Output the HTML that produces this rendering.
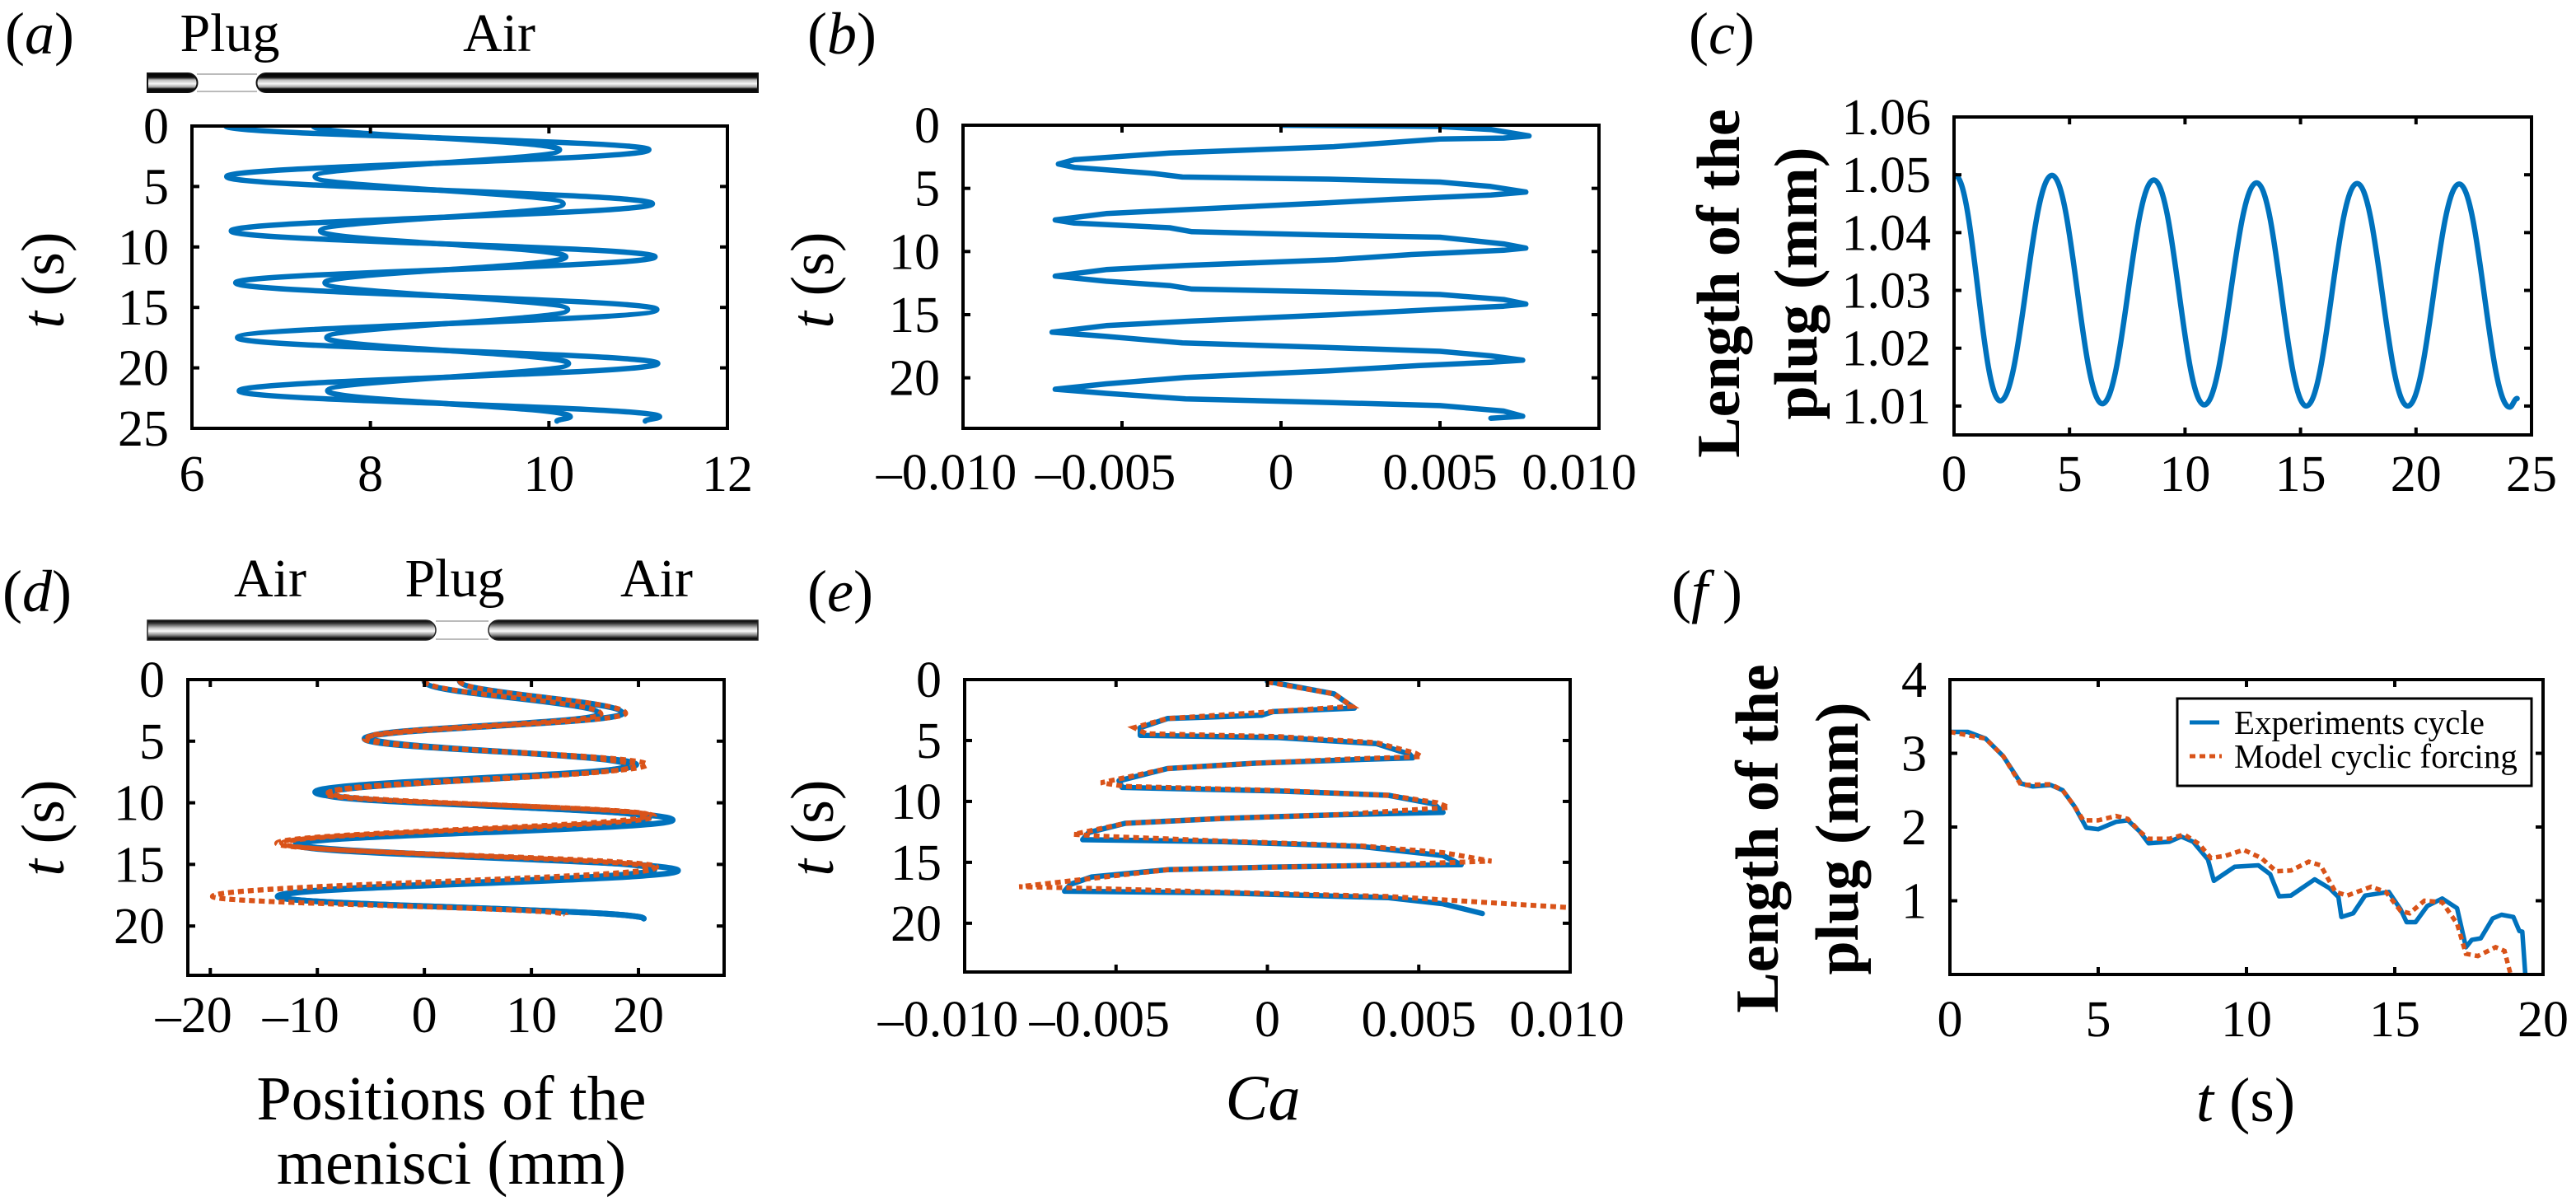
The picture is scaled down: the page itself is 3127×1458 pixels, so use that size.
<!DOCTYPE html>
<html><head><meta charset="utf-8"><style>
html,body{margin:0;padding:0;background:#fff;}
svg{display:block;font-family:"Liberation Serif",serif;}
</style></head><body>
<svg id="fig" xmlns="http://www.w3.org/2000/svg" width="3127" height="1458" viewBox="0 0 3127 1458">
<defs>
<linearGradient id="tubeG" x1="0" y1="0" x2="0" y2="1">
<stop offset="0" stop-color="#000"/><stop offset="0.22" stop-color="#111"/><stop offset="0.35" stop-color="#bbb"/><stop offset="0.55" stop-color="#f6f6f6"/><stop offset="0.72" stop-color="#aaa"/><stop offset="0.82" stop-color="#111"/><stop offset="1" stop-color="#000"/>
</linearGradient>
<linearGradient id="tubeG2" x1="0" y1="0" x2="0" y2="1">
<stop offset="0" stop-color="#000"/><stop offset="0.15" stop-color="#333"/><stop offset="0.4" stop-color="#ccc"/><stop offset="0.55" stop-color="#fafafa"/><stop offset="0.75" stop-color="#888"/><stop offset="0.9" stop-color="#111"/><stop offset="1" stop-color="#000"/>
</linearGradient>
</defs>
<g font-size="66">
<text x="6" y="65" font-size="72">(<tspan font-style="italic">a</tspan>)</text>
<text x="279" y="62" text-anchor="middle">Plug</text>
<text x="606" y="62" text-anchor="middle">Air</text>
<path d="M179,89 H228 A11.5,11.5 0 0 1 228,112 H179 Z" fill="url(#tubeG)" stroke="#111" stroke-width="2"/>
<path d="M920,89 H323 A11.5,11.5 0 0 0 323,112 H920 Z" fill="url(#tubeG)" stroke="#111" stroke-width="2"/>
<line x1="239" y1="90" x2="312" y2="90" stroke="#bbb" stroke-width="2"/>
<line x1="239" y1="111" x2="312" y2="111" stroke="#bbb" stroke-width="2"/>
</g>
<g font-size="66">
<text x="3" y="742" font-size="72">(<tspan font-style="italic">d</tspan>)</text>
<text x="328" y="724" text-anchor="middle">Air</text>
<text x="552" y="724" text-anchor="middle">Plug</text>
<text x="797" y="724" text-anchor="middle">Air</text>
<path d="M179,753 H517 A12,12 0 0 1 517,777 H179 Z" fill="url(#tubeG2)" stroke="#222" stroke-width="1.5"/>
<path d="M920,753 H605 A12,12 0 0 0 605,777 H920 Z" fill="url(#tubeG2)" stroke="#222" stroke-width="1.5"/>
<line x1="529" y1="754" x2="593" y2="754" stroke="#bbb" stroke-width="2"/>
<line x1="529" y1="776" x2="593" y2="776" stroke="#bbb" stroke-width="2"/>
</g>
<text x="980" y="65" font-size="72">(<tspan font-style="italic">b</tspan>)</text>
<text x="980" y="742" font-size="72">(<tspan font-style="italic">e</tspan>)</text>
<text x="2050" y="65" font-size="72">(<tspan font-style="italic">c</tspan>)</text>
<text x="2029" y="742" font-size="72">(<tspan font-style="italic">f</tspan> )</text>
</svg>
<script>
// ---------- data ----------
const aT = [0,1.96,4.18,6.43,8.68,10.82,12.96,15.18,17.5,19.64,21.9,24.04,24.4];
const aOuterX = [6.38,11.12,6.39,11.16,6.44,11.19,6.49,11.21,6.51,11.22,6.53,11.24,11.08];
const aInnerX = [7.36,10.12,7.38,10.16,7.44,10.19,7.49,10.21,7.51,10.22,7.52,10.24,10.09];

const bCa = [0,0.00497,0.0066,0.0078,0.0070,0.005,0.00166,-0.0035,-0.0065,-0.0070,-0.0065,-0.004,-0.0031,0.0015,0.005,0.0066,0.0077,0.0066,0.0035,0.0015,-0.0028,-0.0055,-0.0071,-0.0065,-0.0035,-0.0028,0.0015,0.005,0.007,0.0077,0.007,0.0041,0.0017,-0.003,-0.0055,-0.0071,-0.0055,-0.0035,-0.0028,0.0015,0.005,0.007,0.0077,0.007,0.0048,0.0017,-0.0028,-0.0055,-0.0072,-0.0055,-0.0031,0.0013,0.005,0.0066,0.0076,0.0066,0.0043,0.0015,-0.003,-0.0055,-0.0071,-0.0055,-0.003,0.0015,0.005,0.007,0.0076,0.0066];
const bT = [0,0.1,0.34,0.85,1.02,1.09,1.7,2.2,2.73,3.07,3.34,3.82,4.1,4.27,4.5,4.85,5.29,5.53,5.87,6.14,6.66,7.0,7.5,7.75,8.12,8.43,8.7,8.87,9.4,9.73,9.9,10.24,10.65,11.1,11.43,11.95,12.35,12.7,12.97,13.2,13.4,13.8,14.16,14.33,14.6,15.0,15.5,15.87,16.38,16.72,17.24,17.58,17.9,18.26,18.6,18.77,19.04,19.45,19.97,20.48,20.9,21.23,21.67,21.95,22.2,22.63,23.04,23.2];

const cT = [0.05,2.0,4.24,6.42,8.65,10.83,13.1,15.25,17.45,19.64,21.87,24.05,24.38];
const cL = [1.0499,1.0109,1.0499,1.0104,1.0491,1.0102,1.0486,1.0100,1.0485,1.0100,1.0484,1.0098,1.0113];

const dBlue1X = [3.3,18.5,-5.6,19.8,-10.2,23.2,-12,23.7,-13.7,20.5];
const dBlue1T = [0.1,2.75,4.8,6.9,9.13,11.4,13.4,15.5,17.6,19.4];
const dBlue2X = [0,16.3,-5.2,19,-9.3,21,-12,21.5,-13.7,20.5];
const dBlue2T = [0.14,2.8,4.7,6.95,9.3,11.2,13.3,15.4,17.6,19.4];
const dRed1X = [3.3,18.8,-5.6,20.8,-9,21.5,-13.3,21.5,-19.8,13.2];
const dRed1T = [0.1,2.75,4.8,6.9,9.2,11.1,13.3,15.3,17.6,19.1];
const dRed2X = [0,16.5,-5.3,19.5,-9.2,21,-13.8,21.7,-19.8,13.2];
const dRed2T = [0.1,2.8,4.7,7.0,9.3,11.0,13.3,15.2,17.6,19.1];

const eBlueCa = [0,0.0022,0.00287,0.00018,-0.00018,-0.0033,-0.0042,-0.0042,0.00036,0.0036,0.0047,0.0048,0.0029,-0.0004,-0.0033,-0.0049,-0.0048,0.00036,0.004,0.0055,0.0058,0.0022,-0.0015,-0.0047,-0.0059,-0.0061,-0.0015,0.0031,0.0058,0.0064,0.0031,0,-0.0033,-0.0058,-0.0065,-0.0067,-0.0015,0.004,0.0058,0.0071];
const eBlueT = [0.15,1.17,2.34,2.63,2.92,3.2,3.94,4.58,4.76,5.26,6.13,6.42,6.57,6.86,7.3,8.3,8.85,9.14,9.5,10.2,10.9,11.1,11.4,11.8,12.55,13.14,13.3,13.7,14.45,15.2,15.27,15.4,15.6,16.2,16.8,17.37,17.5,17.9,18.4,19.2];
const eRedCa = [0,0.0022,0.0028,0.0002,-0.0033,-0.0044,-0.004,0.00036,0.0036,0.0049,0.0051,0.0029,-0.0004,-0.0033,-0.0055,-0.0047,0.00036,0.004,0.0056,0.006,0.0022,-0.0015,-0.0047,-0.0064,-0.0055,-0.0015,0.0031,0.0058,0.0074,0.0031,0,-0.0033,-0.0082,-0.0067,-0.0015,0.004,0.0099];
const eRedT = [0.2,1.17,2.2,2.63,3.2,3.94,4.44,4.67,5.17,6.05,6.33,6.5,6.86,7.3,8.47,8.76,9.1,9.5,10.1,10.5,11.1,11.4,11.8,12.7,12.85,13.25,13.65,14.2,14.9,15.25,15.4,15.6,17.0,17.08,17.45,17.8,18.7];

const fExpT = [0,0.6,1.2,1.8,2.4,2.8,3.4,3.8,4.2,4.6,5.0,5.6,6.0,6.4,6.7,7.4,7.8,8.2,8.7,8.9,9.6,10.4,10.8,11.1,11.5,12.3,12.8,13.1,13.2,13.6,14.0,14.8,15.2,15.4,15.7,16.1,16.6,17.1,17.4,17.6,17.9,18.3,18.6,19.0,19.2,19.3,19.4];
const fExpL = [3.29,3.29,3.2,2.96,2.59,2.55,2.57,2.50,2.28,1.99,1.97,2.07,2.09,1.94,1.78,1.80,1.87,1.80,1.56,1.27,1.46,1.48,1.36,1.06,1.07,1.29,1.17,1.05,0.78,0.83,1.07,1.12,0.88,0.71,0.71,0.93,1.03,0.90,0.37,0.47,0.49,0.76,0.81,0.78,0.59,0.58,0.01];
const fModT = [0,1.2,1.8,2.4,3.4,3.8,4.2,4.5,5.0,5.6,6.0,6.4,6.7,7.4,7.9,8.4,8.8,9.3,9.9,10.5,11.0,11.5,12.1,12.5,13.0,13.4,14.2,14.7,15.2,15.5,16.0,16.6,17.1,17.4,17.8,18.4,18.7,18.9];
const fModL = [3.29,3.2,2.96,2.57,2.58,2.50,2.28,2.09,2.09,2.15,2.11,1.94,1.84,1.84,1.90,1.77,1.58,1.61,1.69,1.58,1.40,1.41,1.53,1.48,1.12,1.07,1.19,1.12,0.86,0.83,1.00,0.98,0.69,0.28,0.25,0.37,0.32,0.01];

const aXTicks = [6,8,10,12], aYTicks = [0,5,10,15,20,25];
const bXTicks = [-0.01,-0.005,0,0.005,0.01], bYTicks = [0,5,10,15,20];
const cXTicks = [0,5,10,15,20,25], cYTicks = [1.01,1.02,1.03,1.04,1.05,1.06];
const dXTicks = [-20,-10,0,10,20], dYTicks = [0,5,10,15,20];
const eXTicks = [-0.01,-0.005,0,0.005,0.01], eYTicks = [0,5,10,15,20];
const fXTicks = [0,5,10,15,20], fYTicks = [1,2,3,4];

// ---------- drawing ----------
const NS = 'http://www.w3.org/2000/svg';
const svg = document.getElementById('fig');
const BLUE = '#0072BD', RED = '#D95319';
function mk(tag, attrs, parent){ const e = document.createElementNS(NS, tag); for (const k in attrs) e.setAttribute(k, attrs[k]); parent.appendChild(e); return e; }
function fmtCa(v){ if (v === 0) return '0'; const s = Math.abs(v).toFixed(3); return (v < 0 ? '\u2013' : '') + s; }

function axes(p){
  const g = mk('g', {}, svg);
  
  
  const sx = v => p.L + (v - p.xd[0]) / (p.xd[1] - p.xd[0]) * (p.R - p.L);
  const sy = v => p.T + (v - p.yd[0]) / (p.yd[1] - p.yd[0]) * (p.B - p.T);
  const clipId = p.name + '-clip';
  const cp = mk('clipPath', {id: clipId}, g);
  mk('rect', {x: p.L, y: p.T, width: p.R - p.L, height: p.B - p.T}, cp);
  const plot = mk('g', {'clip-path': 'url(#' + clipId + ')'}, g);
  
  
  const tl = 9;
  p.xt.forEach(v => {
    const x = sx(v);
    if (Math.abs(x - p.L) > 3 && Math.abs(x - p.R) > 3) {
      const t1 = mk('line', {x1: x, y1: p.B, x2: x, y2: p.B - tl, stroke: '#000', 'stroke-width': 4}, g);
      
      
      const t2 = mk('line', {x1: x, y1: p.T, x2: x, y2: p.T + tl, stroke: '#000', 'stroke-width': 4}, g);
      
      
    }
    let shift = v < 0 ? -20 : 0;
    if (p.lastShift && v === p.xt[p.xt.length - 1]) shift = p.lastShift;
    const lab = mk('text', {x: x + shift, y: p.xLabY, 'text-anchor': 'middle', 'font-size': 62}, g);
    lab.textContent = p.fx(v);
    
    
  });
  p.yt.forEach(v => {
    const y = sy(v);
    if (Math.abs(y - p.T) > 3 && Math.abs(y - p.B) > 3) {
      const t1 = mk('line', {x1: p.L, y1: y, x2: p.L + tl, y2: y, stroke: '#000', 'stroke-width': 4}, g);
      
      
      const t2 = mk('line', {x1: p.R, y1: y, x2: p.R - tl, y2: y, stroke: '#000', 'stroke-width': 4}, g);
      
      
    }
    const lab = mk('text', {x: p.L - 28, y: y + 21, 'text-anchor': 'end', 'font-size': 62}, g);
    lab.textContent = p.fy(v);
    
    
  });
  const fr = mk('rect', {x: p.L, y: p.T, width: p.R - p.L, height: p.B - p.T, fill: 'none', stroke: '#000', 'stroke-width': 4}, g);
  
  
  return {sx, sy, plot, g};
}

function smoothD(vals, ts, pt){
  let d = 'M' + pt(vals[0], ts[0]).join(',');
  for (let i = 0; i < vals.length - 1; i++){
    const dt = ts[i+1] - ts[i], k = 0.4;
    d += ' C' + pt(vals[i], ts[i] + k*dt).join(',') + ' ' + pt(vals[i+1], ts[i+1] - k*dt).join(',') + ' ' + pt(vals[i+1], ts[i+1]).join(',');
  }
  return d;
}
function polyD(vals, ts, pt){
  return vals.map((v, i) => (i ? 'L' : 'M') + pt(v, ts[i]).join(',')).join(' ');
}
function vlabel(x, y, txt, name){
  const t = mk('text', {transform: 'translate(' + x + ',' + y + ') rotate(-90)', 'text-anchor': 'middle', 'font-size': 74}, svg);
  t.innerHTML = '<tspan font-style="italic">t</tspan> (s)';
  
  
}

// Panel a
const A = axes({name: 'panel-a', L: 233, R: 883, T: 153, B: 520, xd: [6, 12], yd: [0, 25], xt: aXTicks, yt: aYTicks, xLabY: 596, fx: v => String(v), fy: v => String(v)});
const ptA = (x, t) => [A.sx(x).toFixed(1), A.sy(t).toFixed(1)];
const aO = mk('path', {d: smoothD(aOuterX, aT, ptA), fill: 'none', stroke: BLUE, 'stroke-width': 6.5, 'stroke-linecap': 'round'}, A.plot);


const aI = mk('path', {d: smoothD(aInnerX, aT, ptA), fill: 'none', stroke: BLUE, 'stroke-width': 6.5, 'stroke-linecap': 'round'}, A.plot);


vlabel(77, 340, '', 'panel-a-y-axis-title');

// Panel b
const B = axes({name: 'panel-b', L: 1169, R: 1941, T: 152, B: 520, xd: [-0.01, 0.01], yd: [0, 24], xt: bXTicks, yt: bYTicks, xLabY: 594, lastShift: -24, fx: fmtCa, fy: v => String(v)});
const ptB = (x, t) => [B.sx(x).toFixed(1), B.sy(t).toFixed(1)];
const bl = mk('path', {d: polyD(bCa, bT, ptB), fill: 'none', stroke: BLUE, 'stroke-width': 6.5, 'stroke-linejoin': 'round', 'stroke-linecap': 'round'}, B.plot);


vlabel(1011, 340, '', 'panel-b-y-axis-title');

// Panel c
const C = axes({name: 'panel-c', L: 2372, R: 3073, T: 142, B: 528, xd: [0, 25], yd: [1.06, 1.005], xt: cXTicks, yt: cYTicks, xLabY: 596, fx: v => String(v), fy: v => v.toFixed(2)});
const ptC = (L, t) => [C.sx(t).toFixed(1), C.sy(L).toFixed(1)];
const cl = mk('path', {d: smoothD(cL, cT, ptC), fill: 'none', stroke: BLUE, 'stroke-width': 6.5, 'stroke-linecap': 'round'}, C.plot);


function twoLineLabel(x1, x2, y, name){
  const t1 = mk('text', {transform: 'translate(' + x1 + ',' + y + ') rotate(-90)', 'text-anchor': 'middle', 'font-size': 74, 'font-weight': 'bold'}, svg);
  t1.textContent = 'Length of the';
  
  
  const t2 = mk('text', {transform: 'translate(' + x2 + ',' + y + ') rotate(-90)', 'text-anchor': 'middle', 'font-size': 74, 'font-weight': 'bold'}, svg);
  t2.textContent = 'plug (mm)';
  
  
}
twoLineLabel(2111, 2205, 344, 'panel-c-y-axis-title');

// Panel d
const D = axes({name: 'panel-d', L: 228, R: 879, T: 825, B: 1184, xd: [-22.1, 28], yd: [0, 24], xt: dXTicks, yt: dYTicks, xLabY: 1253, fx: v => (v < 0 ? '\u2013' + Math.abs(v) : String(v)), fy: v => String(v)});
const ptD = (x, t) => [D.sx(x).toFixed(1), D.sy(t).toFixed(1)];
[[dBlue1X, dBlue1T, 'panel-d-experiment-meniscus-1'], [dBlue2X, dBlue2T, 'panel-d-experiment-meniscus-2']].forEach(s => {
  const p = mk('path', {d: smoothD(s[0], s[1], ptD), fill: 'none', stroke: BLUE, 'stroke-width': 7, 'stroke-linecap': 'round'}, D.plot);
  
  
});
[[dRed1X, dRed1T, 'panel-d-model-meniscus-1'], [dRed2X, dRed2T, 'panel-d-model-meniscus-2']].forEach(s => {
  const p = mk('path', {d: smoothD(s[0], s[1], ptD), fill: 'none', stroke: RED, 'stroke-width': 6, 'stroke-dasharray': '7 5'}, D.plot);
  
  
});
vlabel(77, 1005, '', 'panel-d-y-axis-title');
const dx1 = mk('text', {x: 548, y: 1359, 'text-anchor': 'middle', 'font-size': 76}, svg);
dx1.textContent = 'Positions of the';


const dx2 = mk('text', {x: 548, y: 1437, 'text-anchor': 'middle', 'font-size': 76}, svg);
dx2.textContent = 'menisci (mm)';



// Panel e
const E = axes({name: 'panel-e', L: 1171, R: 1906, T: 825, B: 1180, xd: [-0.01, 0.01], yd: [0, 24], xt: eXTicks, yt: eYTicks, xLabY: 1258, lastShift: -4, fx: fmtCa, fy: v => String(v)});
const ptE = (x, t) => [E.sx(x).toFixed(1), E.sy(t).toFixed(1)];
const eb = mk('path', {d: polyD(eBlueCa, eBlueT, ptE), fill: 'none', stroke: BLUE, 'stroke-width': 6.5, 'stroke-linejoin': 'round', 'stroke-linecap': 'round'}, E.plot);


const er = mk('path', {d: polyD(eRedCa, eRedT, ptE), fill: 'none', stroke: RED, 'stroke-width': 6, 'stroke-dasharray': '7 5'}, E.plot);


vlabel(1011, 1005, '', 'panel-e-y-axis-title');
const ex = mk('text', {x: 1533, y: 1359, 'text-anchor': 'middle', 'font-size': 78, 'font-style': 'italic'}, svg);
ex.textContent = 'Ca';



// Panel f
const F = axes({name: 'panel-f', L: 2367, R: 3087, T: 825, B: 1183, xd: [0, 20], yd: [4, 0], xt: fXTicks, yt: fYTicks, xLabY: 1258, fx: v => String(v), fy: v => String(v)});
const ptF = (L, t) => [F.sx(t).toFixed(1), F.sy(L).toFixed(1)];
const fb = mk('path', {d: polyD(fExpL, fExpT, ptF), fill: 'none', stroke: BLUE, 'stroke-width': 5.5, 'stroke-linejoin': 'round'}, F.plot);


const fr2 = mk('path', {d: polyD(fModL, fModT, ptF), fill: 'none', stroke: RED, 'stroke-width': 5.5, 'stroke-dasharray': '7 5'}, F.plot);


twoLineLabel(2158, 2255, 1018, 'panel-f-y-axis-title');
const fx = mk('text', {x: 2726, y: 1361, 'text-anchor': 'middle', 'font-size': 76}, svg);
fx.innerHTML = '<tspan font-style="italic">t</tspan> (s)';


// legend
const lg = mk('g', {}, svg);


const lbox = mk('rect', {x: 2643, y: 848, width: 430, height: 106, fill: '#fff', stroke: '#000', 'stroke-width': 3}, lg);


const l1 = mk('line', {x1: 2658, y1: 877, x2: 2694, y2: 877, stroke: BLUE, 'stroke-width': 5}, lg);


const t1 = mk('text', {x: 2712, y: 891, 'font-size': 41}, lg);
t1.textContent = 'Experiments cycle';


const l2 = mk('line', {x1: 2658, y1: 918, x2: 2697, y2: 918, stroke: RED, 'stroke-width': 5, 'stroke-dasharray': '7 5'}, lg);


const t2 = mk('text', {x: 2712, y: 932, 'font-size': 41}, lg);
t2.textContent = 'Model cyclic forcing';


</script>
</body></html>
